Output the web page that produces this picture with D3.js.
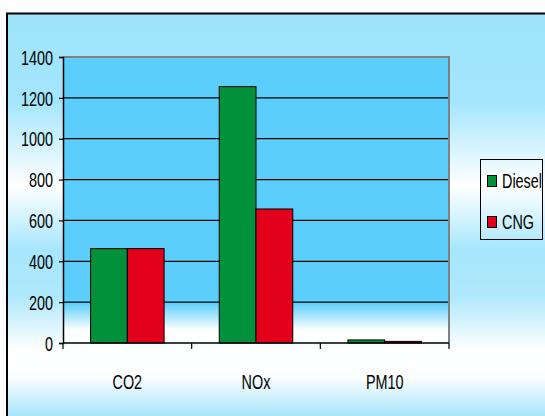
<!DOCTYPE html>
<html lang="en">
<head>
    <meta charset="UTF-8">
    <title>Emissions Diesel vs CNG</title>
    <script src="https://d3js.org/d3.v7.min.js"></script>
    <style>
        body { margin: 0; background: #fff; }
        text { font-family: "Liberation Sans", Arial, sans-serif; fill: #000; }
    </style>
</head>
<body>
<script>
    const width  = 545;
    const height = 416;

    const categories = ['CO2', 'NOx', 'PM10'];
    const series     = ['Diesel', 'CNG'];
    const diesel     = [462, 1255, 15];
    const cng        = [462, 656, 8];
    const yTicks     = [0, 200, 400, 600, 800, 1000, 1200, 1400];
    const colors     = ['#00913a', '#e2001a'];

    const plot = {left: 63, right: 449, top: 57, bottom: 343};
    const fs = 20, narrow = 0.72;   // condensed look of the original font

    const svg = d3.select("body")
            .append("svg")
            .attr("width", width)
            .attr("height", height);

    const defs = svg.append("defs");

    // outer chart area gradient (light blue / white bands)
    const bg = defs.append("linearGradient")
            .attr("id", "bg")
            .attr("gradientUnits", "userSpaceOnUse")
            .attr("x1", 0).attr("x2", 0)
            .attr("y1", 13).attr("y2", 416);
    [[13, '#a0e4fc'], [100, '#a2e5fc'], [186, '#ffffff'], [250, '#a6e6fc'],
     [296, '#aee8fc'], [350, '#ffffff'], [378, '#fafdff'], [416, '#a8e6fc']]
        .forEach(s => bg.append("stop")
            .attr("offset", (s[0] - 13) / (416 - 13))
            .attr("stop-color", s[1]));

    // plot area gradient
    const pg = defs.append("linearGradient")
            .attr("id", "pg")
            .attr("x1", 0).attr("x2", 0)
            .attr("y1", 0).attr("y2", 1);
    [[0, '#5bcefb'], [0.86, '#5bcefb'], [0.955, '#ffffff'], [1, '#ffffff']]
        .forEach(s => pg.append("stop").attr("offset", s[0]).attr("stop-color", s[1]));

    svg.append("rect")
            .attr("x", 7).attr("y", 13.5)
            .attr("width", 560).attr("height", 420)
            .attr("fill", "url(#bg)")
            .attr("stroke", "#000")
            .attr("stroke-width", 2);

    const x0 = d3.scaleBand()
            .domain(categories)
            .range([plot.left, plot.right])
            .paddingInner(0).paddingOuter(0);

    const x1 = d3.scaleBand()
            .domain(series)
            .range([0, x0.bandwidth()])
            .paddingInner(0).paddingOuter(0.75);

    const y = d3.scaleLinear()
            .domain([0, 1400])
            .range([plot.bottom, plot.top]);

    svg.append("rect")
            .attr("x", plot.left).attr("y", plot.top)
            .attr("width", plot.right - plot.left)
            .attr("height", plot.bottom - plot.top)
            .attr("fill", "url(#pg)");

    // plot area border (grey, top & right)
    svg.append("path")
            .attr("d", `M${plot.left},${plot.top}H${plot.right}V${plot.bottom}`)
            .attr("fill", "none")
            .attr("stroke", "#808080")
            .attr("stroke-width", 2);

    // gridlines
    svg.append("g")
            .selectAll("line")
            .data(yTicks.filter(d => d > 0 && d < 1400))
            .join("line")
            .attr("x1", plot.left).attr("x2", plot.right - 1)
            .attr("y1", d => y(d)).attr("y2", d => y(d))
            .attr("stroke", "#000")
            .attr("stroke-width", 1.2);

    const rows = categories.map((c, i) => ({cat: c, vals: [diesel[i], cng[i]]}));

    svg.append("g")
            .selectAll("g")
            .data(rows)
            .join("g")
            .attr("transform", d => "translate(" + x0(d.cat) + ",0)")
            .selectAll("rect")
            .data(d => d.vals.map((v, j) => ({s: series[j], v: v, j: j})))
            .join("rect")
            .attr("x", d => x1(d.s))
            .attr("y", d => y(d.v))
            .attr("width", x1.bandwidth())
            .attr("height", d => plot.bottom - y(d.v))
            .attr("fill", d => colors[d.j])
            .attr("stroke", "#000")
            .attr("stroke-width", 1);

    // y axis
    const yAxis = svg.append("g")
            .attr("transform", "translate(" + plot.left + ",0)")
            .call(d3.axisLeft(y).tickValues(yTicks).tickSize(4).tickPadding(6).tickFormat(d3.format("d")));
    yAxis.attr("font-family", null).attr("font-size", null);
    yAxis.select(".domain").attr("stroke", "#000").attr("stroke-width", 1.5);
    yAxis.selectAll(".tick line").attr("stroke", "#000").attr("stroke-width", 1.2);
    yAxis.selectAll(".tick text")
            .attr("x", 0)
            .attr("dy", "0.36em")
            .attr("transform", "translate(-10,0) scale(" + narrow + ",1)")
            .attr("font-size", fs)
            .attr("fill", "#000");

    // x axis
    const xAxis = svg.append("g")
            .attr("transform", "translate(0," + plot.bottom + ")");
    xAxis.append("line")
            .attr("x1", plot.left).attr("x2", plot.right)
            .attr("stroke", "#000").attr("stroke-width", 1.5);
    xAxis.selectAll("line.tk")
            .data([plot.left].concat(categories.map(c => x0(c) + x0.bandwidth())))
            .join("line")
            .attr("class", "tk")
            .attr("x1", d => d).attr("x2", d => d)
            .attr("y1", 0).attr("y2", 6)
            .attr("stroke", "#000").attr("stroke-width", 1.2);
    xAxis.selectAll("text")
            .data(categories)
            .join("text")
            .attr("transform", d => "translate(" + (x0(d) + x0.bandwidth() / 2) + ",39) scale(" + narrow + ",1)")
            .attr("dy", "0.36em")
            .attr("text-anchor", "middle")
            .attr("font-size", fs)
            .text(d => d);

    // legend
    const legend = svg.append("g");
    legend.append("rect")
            .attr("x", 480.5).attr("y", 159.5)
            .attr("width", 62).attr("height", 80)
            .attr("fill", "none")
            .attr("stroke", "#000");
    const item = legend.selectAll("g")
            .data(series)
            .join("g")
            .attr("transform", (d, i) => "translate(487," + (181 + i * 41) + ")");
    item.append("rect")
            .attr("x", 0.5).attr("y", -5.5)
            .attr("width", 9).attr("height", 11)
            .attr("fill", (d, i) => colors[i])
            .attr("stroke", "#000");
    item.append("text")
            .attr("transform", "translate(15,0) scale(" + narrow + ",1)")
            .attr("dy", "0.36em")
            .attr("font-size", fs)
            .text(d => d);
</script>
</body>
</html>
